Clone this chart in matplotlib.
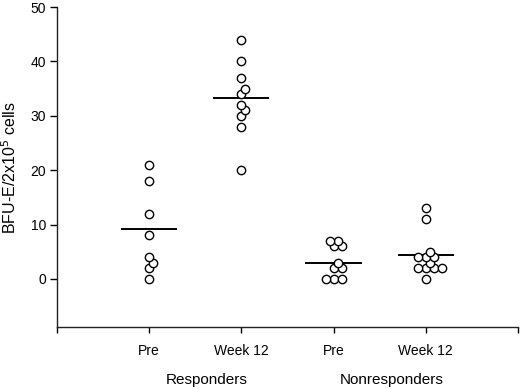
import numpy as np
import matplotlib
matplotlib.use("Agg")
import matplotlib.pyplot as plt
import matplotlib.transforms as mtransforms

plt.rcParams["font.family"] = ["Liberation Sans", "DejaVu Sans"]

# BFU-E colonies per 2x10^5 cells
resp_pre = [21, 18, 12, 8, 4, 3, 2, 0]
resp_wk12 = [44, 40, 37, 35, 34, 32, 31, 30, 28, 20]
nonresp_pre = [7, 7, 6, 6, 3, 2, 2, 0, 0, 0]
nonresp_wk12 = [13, 11, 5, 4, 4, 4, 3, 2, 2, 2, 2, 0]

groups = [resp_pre, resp_wk12, nonresp_pre, nonresp_wk12]
group_lines = [9.2, 33.3, 3.0, 4.4]   # horizontal bars as drawn
tick_labels = ["", "Pre", "Week 12", "Pre", "Week 12", ""]
group_names = ["Responders", "Nonresponders"]

fig = plt.figure(figsize=(5.2, 3.89), dpi=100)
ax = fig.add_axes([0.1096, 0.1586, 0.8864, 0.8234])
ax.set_xlim(0, 5)
ax.set_ylim(-8.9, 50)

# pixels per data unit, used to spread overlapping points
bbox = ax.get_window_extent()
xpx = bbox.width / 5.0
ypx = bbox.height / 58.9


def swarm(values, min_dist=5.5, step=4.0):
    placed = []
    offs = []
    cands = [0.0]
    for k in range(1, 8):
        cands += [k * step, -k * step]
    for v in values:
        yp = v * ypx
        for c in cands:
            if all((c - px) ** 2 + (yp - py) ** 2 >= min_dist ** 2 for px, py in placed):
                break
        placed.append((c, yp))
        offs.append(c / xpx)
    return np.array(offs)


for i, vals in enumerate(groups):
    pos = i + 1
    x = pos + swarm(sorted(vals))
    ax.plot(x, sorted(vals), "o", ms=6.0, mfc="white", mec="black", mew=1.0,
            linestyle="none", zorder=3)
    ax.hlines(group_lines[i], pos - 0.305, pos + 0.305, color="black", lw=1.4, zorder=2)

ax.set_xticks(range(6))
ax.set_xticklabels(tick_labels, fontsize=10)
ax.set_yticks(range(0, 51, 10))
ax.tick_params(axis="y", labelsize=10, length=5, width=1, pad=3)
ax.tick_params(axis="x", length=4, width=1, pad=8)

for s in ["top", "right"]:
    ax.spines[s].set_visible(False)
for s in ["left", "bottom"]:
    ax.spines[s].set_linewidth(1.0)
    ax.spines[s].set_color("#222222")

ax.set_ylabel("BFU-E/2x10$^5$ cells", fontsize=11.5, labelpad=8)

trans = mtransforms.blended_transform_factory(ax.transData, fig.transFigure)
ax.text(1.62, 0.013, group_names[0], transform=trans, ha="center", va="baseline", fontsize=11)
ax.text(3.63, 0.013, group_names[1], transform=trans, ha="center", va="baseline", fontsize=11)

fig.savefig("out.png", dpi=100)
